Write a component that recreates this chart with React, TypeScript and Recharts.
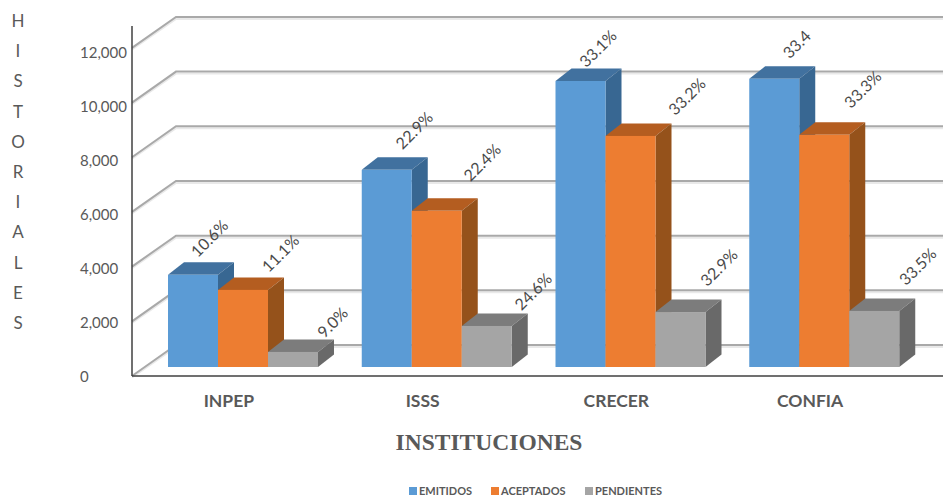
import React from 'react';
import { BarChart, Bar, XAxis, YAxis, CartesianGrid, Legend, LabelList } from 'recharts';

const categories = ['INPEP', 'ISSS', 'CRECER', 'CONFIA'];
const emitidos = [3370, 7210, 10460, 10540];
const aceptados = [2820, 5710, 8450, 8490];
const pendientes = [550, 1500, 2010, 2050];
const emitidosLabels = ['10.6%', '22.9%', '33.1%', '33.4'];
const aceptadosLabels = ['11.1%', '22.4%', '33.2%', '33.3%'];
const pendientesLabels = ['9.0%', '24.6%', '32.9%', '33.5%'];
const yTicks = [0, 2000, 4000, 6000, 8000, 10000, 12000];
const yTitle = ['H', 'I', 'S', 'T', 'O', 'R', 'I', 'A', 'L', 'E', 'S'];

const data = categories.map((name, i) => ({
  name,
  emitidos: emitidos[i],
  aceptados: aceptados[i],
  pendientes: pendientes[i],
  emitidosLabel: emitidosLabels[i],
  aceptadosLabel: aceptadosLabels[i],
  pendientesLabel: pendientesLabels[i],
}));

// Layout only: label nudges relative to each bar's scaled top-centre.
const nudgeEmitidos = [[16, -37], [27, -40], [17, -33], [22, -35]];
const nudgeAceptados = [[37, -37], [45, -49], [56, -40], [38, -46]];
const nudgePendientes = [[39, -30], [46, -35], [38, -45], [43, -45]];

const FONT = 'Lato, "Open Sans", sans-serif';
const TEXT = '#595959';
const SHIFT_X = 14;
const SHIFT_Y = -9;
const DEPTH_X = 16;
const DEPTH_Y = -12.5;
const WALL_X = 44;
const WALL_Y = -31;

const box3d = (front: string, top: string, side: string) => (props: any) => {
  const { x, y, width, height } = props;
  const l = x + SHIFT_X;
  const t = y + SHIFT_Y;
  const r = l + width;
  const b = t + height;
  return (
    <g>
      <polygon points={`${l},${t} ${r},${t} ${r + DEPTH_X},${t + DEPTH_Y} ${l + DEPTH_X},${t + DEPTH_Y}`} fill={top} />
      <polygon points={`${r},${t} ${r + DEPTH_X},${t + DEPTH_Y} ${r + DEPTH_X},${b + DEPTH_Y} ${r},${b}`} fill={side} />
      <rect x={l} y={t} width={width} height={height} fill={front} />
    </g>
  );
};

const angledLabel = (nudges: number[][]) => (props: any) => {
  const { x, y, width, index, value } = props;
  const px = x + SHIFT_X + width / 2 + nudges[index][0];
  const py = y + SHIFT_Y + nudges[index][1];
  return (
    <text
      x={px}
      y={py}
      textAnchor="middle"
      dominantBaseline="central"
      transform={`rotate(-45 ${px} ${py})`}
      fontFamily={FONT}
      fontSize={16}
      fill="#4a4a4a"
    >
      {value}
    </text>
  );
};

const gridLine = (props: any) => {
  const { x1, x2, y1, y } = props;
  if (y1 === y) return <g key="plot-top" />;
  const bx = x1 + WALL_X;
  const by = y1 + WALL_Y;
  return (
    <g key={`g-${y1}`}>
      <path d={`M${x1},${y1 + 1.5} L${bx},${by + 2} L${x2},${by + 2}`} fill="none" stroke="#e9e9e9" strokeWidth={2} />
      <path d={`M${x1},${y1} L${bx},${by} L${x2},${by}`} fill="none" stroke="#a9a9a9" strokeWidth={2} />
    </g>
  );
};

const yTick = (props: any) => {
  const { y, payload } = props;
  return (
    <text x={80} y={y + payload.value / 3000} dominantBaseline="central" fontFamily={FONT} fontSize={15} fill={TEXT}>
      {payload.value.toLocaleString('en-US')}
    </text>
  );
};

const legendStarts = [409, 491, 585];
const renderLegend = (props: any) => (
  <div style={{ position: 'relative', height: 14, width: 943 }}>
    {props.payload.map((item: any, i: number) => (
      <div
        key={item.value}
        style={{
          position: 'absolute',
          left: legendStarts[i],
          top: 0,
          display: 'flex',
          alignItems: 'center',
          fontFamily: FONT,
          fontWeight: 700,
          fontSize: 11,
          color: TEXT,
          lineHeight: '14px',
        }}
      >
        <span style={{ width: 8, height: 8, background: item.color, marginRight: 2, display: 'inline-block' }} />
        {item.value}
      </div>
    ))}
  </div>
);

export default function App() {
  return (
    <div style={{ position: 'absolute', left: 0, top: 0, width: 943, height: 497, background: '#fff' }}>
      <BarChart
        width={943}
        height={497}
        data={data}
        margin={{ top: 26, right: 0, bottom: 0, left: 0 }}
        barCategoryGap={22}
        barGap={0}
      >
        <CartesianGrid vertical={false} horizontal={gridLine} />
        <XAxis
          dataKey="name"
          padding={{ left: 0, right: 36 }}
          height={101}
          tickLine={false}
          axisLine={{ stroke: '#404040', strokeWidth: 1.5 }}
          tickMargin={13}
          tick={{ fill: TEXT, fontSize: 17.5, fontWeight: 700, fontFamily: FONT }}
        />
        <YAxis
          width={132}
          domain={[0, 12800]}
          ticks={yTicks}
          interval={0}
          tickLine={false}
          axisLine={{ stroke: '#404040', strokeWidth: 1.5 }}
          tick={yTick}
        />
        <Legend
          content={renderLegend}
          height={20}
          verticalAlign="bottom"
          itemSorter={null}
          wrapperStyle={{ bottom: -7 }}
        />
        <Bar dataKey="emitidos" name="EMITIDOS" fill="#5B9BD5" barSize={50} isAnimationActive={false} shape={box3d('#5B9BD5', '#41719F', '#386792')}>
          <LabelList dataKey="emitidosLabel" content={angledLabel(nudgeEmitidos)} />
        </Bar>
        <Bar dataKey="aceptados" name="ACEPTADOS" fill="#ED7D31" barSize={50} isAnimationActive={false} shape={box3d('#ED7D31', '#B45D20', '#95521B')}>
          <LabelList dataKey="aceptadosLabel" content={angledLabel(nudgeAceptados)} />
        </Bar>
        <Bar dataKey="pendientes" name="PENDIENTES" fill="#A5A5A5" barSize={50} isAnimationActive={false} shape={box3d('#A5A5A5', '#7C7C7C', '#696969')}>
          <LabelList dataKey="pendientesLabel" content={angledLabel(nudgePendientes)} />
        </Bar>
        {yTitle.map((letter, i) => (
          <text key={i} x={18} y={20.5 + i * 30.2} textAnchor="middle" dominantBaseline="central" fontFamily={FONT} fontSize={17} fill={TEXT}>
            {letter}
          </text>
        ))}
        <text x={489} y={442} textAnchor="middle" dominantBaseline="central" fontFamily='"Liberation Serif", serif' fontWeight={700} fontSize={23.5} fill={TEXT}>
          INSTITUCIONES
        </text>
      </BarChart>
    </div>
  );
}
